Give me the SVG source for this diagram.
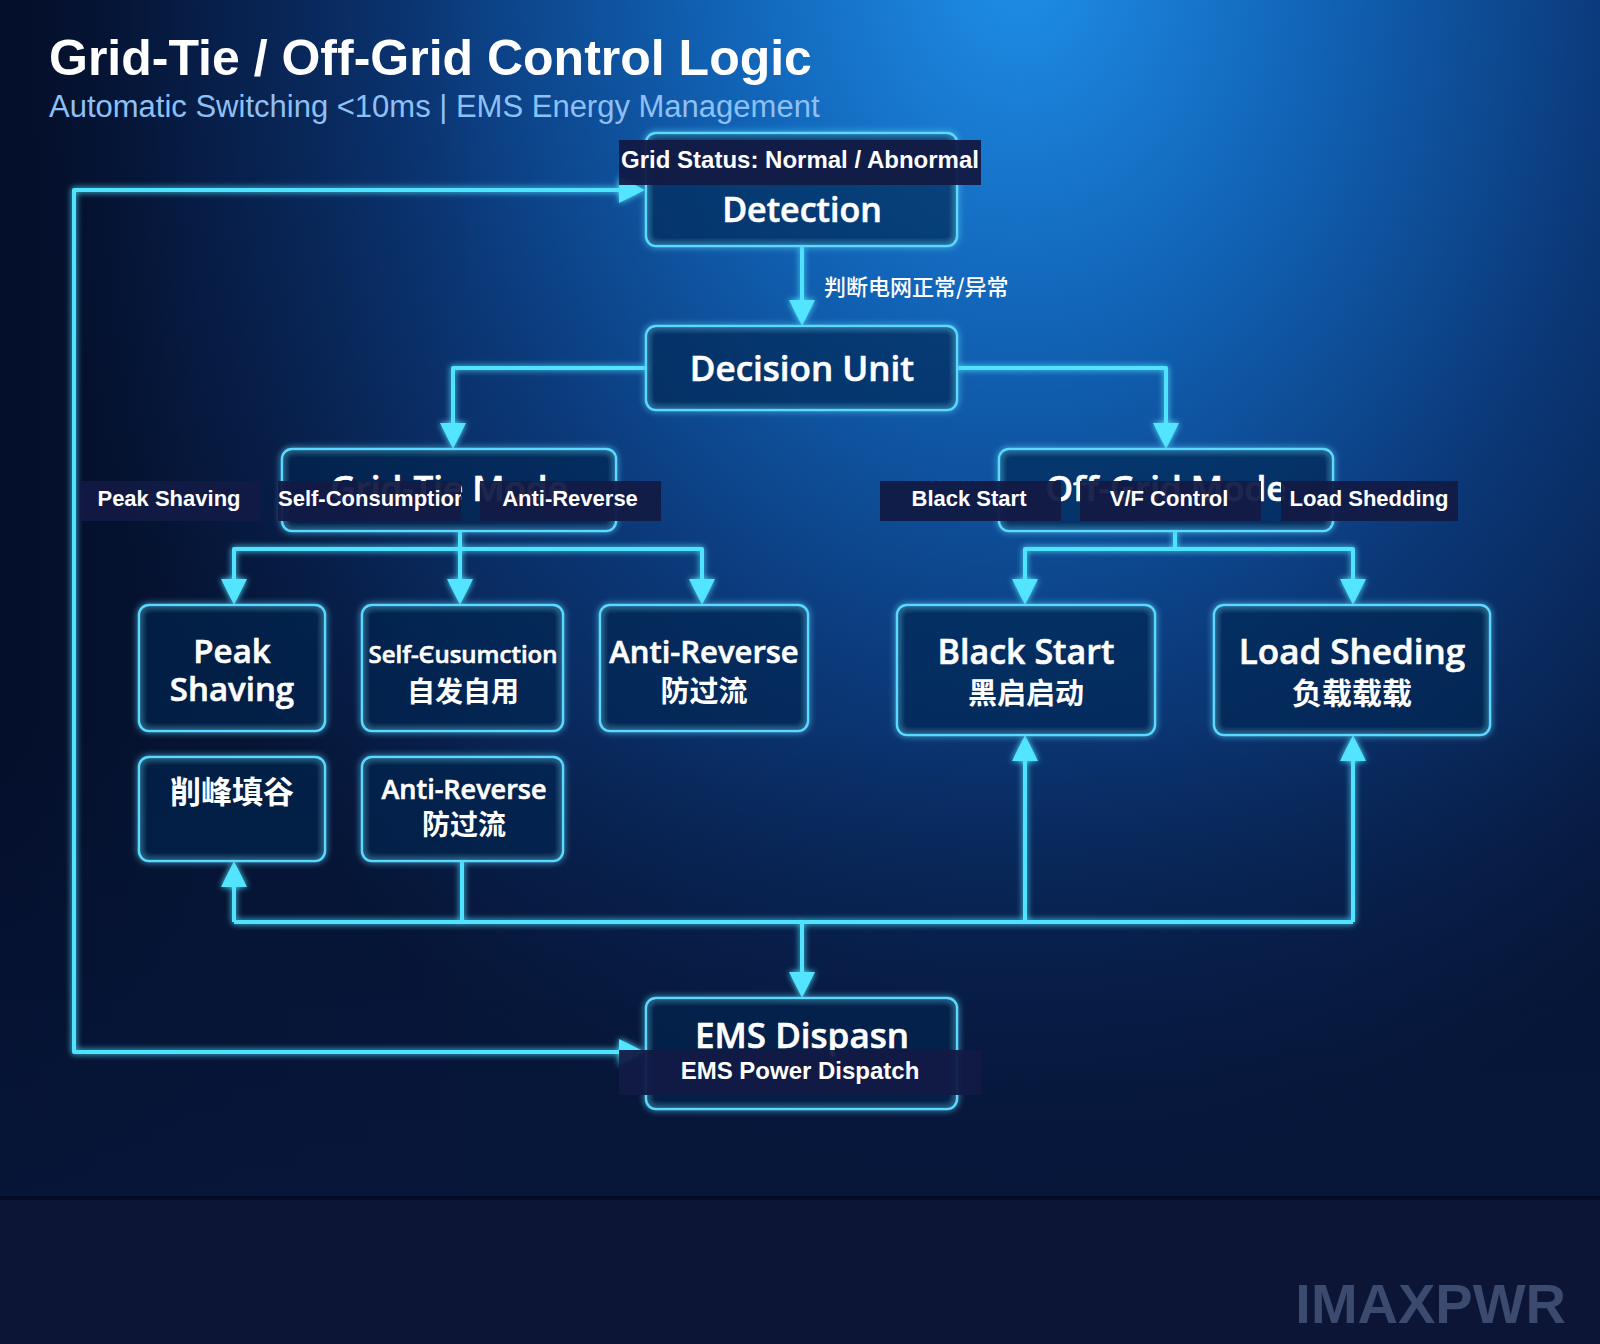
<svg xmlns="http://www.w3.org/2000/svg" width="1600" height="1344" viewBox="0 0 1600 1344">
  <defs>
    <radialGradient id="bg" cx="1020" cy="-40" r="1000" gradientUnits="userSpaceOnUse" gradientTransform="translate(1020,-40) scale(1,1.25) translate(-1020,40)">
      <stop offset="0" stop-color="#1f8fe8"/>
      <stop offset="0.3" stop-color="#1163b6"/>
      <stop offset="0.6" stop-color="#0b3878"/>
      <stop offset="0.85" stop-color="#08214e"/>
      <stop offset="1" stop-color="#061636"/>
    </radialGradient>
    <linearGradient id="leftShade" x1="0" y1="0" x2="1" y2="0">
      <stop offset="0" stop-color="#030c26" stop-opacity="0.75"/>
      <stop offset="0.12" stop-color="#030c26" stop-opacity="0.25"/>
      <stop offset="0.3" stop-color="#030c26" stop-opacity="0"/>
    </linearGradient>
    <linearGradient id="bottomShade" x1="0" y1="0" x2="0" y2="1">
      <stop offset="0.6" stop-color="#07163a" stop-opacity="0"/>
      <stop offset="1" stop-color="#07163a" stop-opacity="0.85"/>
    </linearGradient>
    <filter id="glow" x="-20%" y="-20%" width="140%" height="140%">
      <feGaussianBlur in="SourceGraphic" stdDeviation="3" result="b"/>
      <feMerge><feMergeNode in="b"/><feMergeNode in="SourceGraphic"/></feMerge>
    </filter>
    <marker id="arr" viewBox="0 0 26 26" refX="22" refY="13" markerWidth="26" markerHeight="26" markerUnits="userSpaceOnUse" orient="auto">
      <path d="M0,0 L26,13 L0,26 z" fill="#52e4ff"/>
    </marker>
    <clipPath id="clipSelf"><rect x="278" y="481" width="183" height="40"/></clipPath>
    <style>
      .node rect.box { fill: #04204f; fill-opacity: 0.4; stroke: #5ad8ff; stroke-width: 2.5; }
      .nt { font-family: "Open Sans", "Noto Sans", sans-serif; font-weight: 600; fill: #ffffff; stroke: #ffffff; stroke-width: 0.6; text-anchor: middle; }
      .cn { font-family: "Noto Sans CJK SC", sans-serif; font-weight: 700; fill: #ffffff; text-anchor: middle; }
      .lbl rect { fill: #121a45; fill-opacity: 0.95; }
      .lbl text { font-family: "Liberation Sans", Arial, sans-serif; font-weight: 700; fill: #ffffff; font-size: 22px; text-anchor: middle; }
      .conn path { fill: none; stroke: #4fe3ff; stroke-width: 4; stroke-linejoin: round; }
    </style>
  </defs>

  <rect width="1600" height="1344" fill="url(#bg)"/>
  <rect width="1600" height="1200" fill="url(#leftShade)"/>
  <rect width="1600" height="1200" fill="url(#bottomShade)"/>
  <rect x="0" y="1196" width="1600" height="6" fill="#040a1c" opacity="0.7"/>
  <rect x="0" y="1200" width="1600" height="144" fill="#0c1535"/>

  <text x="49" y="75" font-family="Liberation Sans, Arial, sans-serif" font-weight="700" font-size="50" fill="#ffffff">Grid-Tie / Off-Grid Control Logic</text>
  <text x="49" y="117" font-family="Liberation Sans, Arial, sans-serif" font-size="31" fill="#8ec0f5">Automatic Switching &lt;10ms | EMS Energy Management</text>

  <g class="conn" filter="url(#glow)">
    <path d="M74,620 V190 H641" marker-end="url(#arr)"/>
    <path d="M74,620 V1052 H641" marker-end="url(#arr)"/>
    <path d="M802,246 V322" marker-end="url(#arr)"/>
    <path d="M646,368 H453 V445" marker-end="url(#arr)"/>
    <path d="M957,368 H1166 V445" marker-end="url(#arr)"/>
    <path d="M460,531 V601" marker-end="url(#arr)"/>
    <path d="M234,601 V549 H702 V601"/>
    <path d="M234,560 V601" marker-end="url(#arr)"/>
    <path d="M702,560 V601" marker-end="url(#arr)"/>
    <path d="M1175,531 V549"/>
    <path d="M1025,601 V549 H1353 V601"/>
    <path d="M1025,560 V601" marker-end="url(#arr)"/>
    <path d="M1353,560 V601" marker-end="url(#arr)"/>
    <path d="M234,922 H1353"/>
    <path d="M234,922 V865" marker-end="url(#arr)"/>
    <path d="M462,861 V922"/>
    <path d="M1025,922 V739" marker-end="url(#arr)"/>
    <path d="M1353,922 V739" marker-end="url(#arr)"/>
    <path d="M802,922 V994" marker-end="url(#arr)"/>
  </g>

  <text x="824" y="295" font-family="Noto Sans CJK SC, sans-serif" font-weight="500" font-size="22" fill="#ffffff">判断电网正常/异常</text>

  <g id="detection" class="node">
    <rect class="box" x="646" y="133" width="311" height="113" rx="10" filter="url(#glow)"/>
    <text class="nt" x="802" y="222" font-size="34">Detection</text>
  </g>
  <g id="label-grid-status" class="lbl">
    <rect x="619" y="140" width="362" height="45"/>
    <text x="800" y="168" style="font-size:24px">Grid Status: Normal / Abnormal</text>
  </g>

  <g id="decision" class="node">
    <rect class="box" x="646" y="326" width="311" height="84" rx="10" filter="url(#glow)"/>
    <text class="nt" x="802" y="381" font-size="35">Decision Unit</text>
  </g>

  <g id="grid-tie" class="node">
    <rect class="box" x="282" y="449" width="334" height="82" rx="10" filter="url(#glow)"/>
    <text class="nt" x="449" y="501" font-size="35">Grid-Tie Mode</text>
  </g>
  <g id="off-grid" class="node">
    <rect class="box" x="999" y="449" width="334" height="82" rx="10" filter="url(#glow)"/>
    <text class="nt" x="1166" y="501" font-size="35">Off-Grid Mode</text>
  </g>

  <g id="labels-grid-tie" class="lbl">
    <rect x="80" y="481" width="180" height="40" fill-opacity="0.8"/>
    <text x="169" y="506">Peak Shaving</text>
    <rect x="278" y="481" width="183" height="40"/>
    <text x="278" y="506" style="text-anchor:start" clip-path="url(#clipSelf)">Self-Consumption</text>
    <rect x="480" y="481" width="181" height="40"/>
    <text x="570" y="506">Anti-Reverse</text>
  </g>
  <g id="labels-off-grid" class="lbl">
    <rect x="880" y="481" width="181" height="40"/>
    <text x="969" y="506">Black Start</text>
    <rect x="1080" y="481" width="181" height="40"/>
    <text x="1169" y="506">V/F Control</text>
    <rect x="1281" y="481" width="177" height="40"/>
    <text x="1369" y="506">Load Shedding</text>
  </g>

  <g id="peak-shaving" class="node">
    <rect class="box" x="139" y="605" width="186" height="126" rx="10" filter="url(#glow)"/>
    <text class="nt" x="232" y="663" font-size="33">Peak</text>
    <text class="nt" x="232" y="701" font-size="33">Shaving</text>
  </g>
  <g id="self-consumption" class="node">
    <rect class="box" x="362" y="605" width="201" height="126" rx="10" filter="url(#glow)"/>
    <text class="nt" x="463" y="663" font-size="24">Self-Єusumction</text>
    <text class="cn" x="463" y="702" font-size="28">自发自用</text>
  </g>
  <g id="anti-reverse" class="node">
    <rect class="box" x="600" y="605" width="208" height="126" rx="10" filter="url(#glow)"/>
    <text class="nt" x="704" y="663" font-size="31">Anti-Reverse</text>
    <text class="cn" x="704" y="702" font-size="29">防过流</text>
  </g>
  <g id="peak-valley" class="node">
    <rect class="box" x="139" y="757" width="186" height="104" rx="10" filter="url(#glow)"/>
    <text class="cn" x="232" y="803" font-size="31">削峰填谷</text>
  </g>
  <g id="anti-reverse-2" class="node">
    <rect class="box" x="362" y="757" width="201" height="104" rx="10" filter="url(#glow)"/>
    <text class="nt" x="464" y="799" font-size="27" font-weight="500" stroke-width="0.2">Anti-Reverse</text>
    <text class="cn" x="464" y="835" font-size="28">防过流</text>
  </g>
  <g id="black-start" class="node">
    <rect class="box" x="897" y="605" width="258" height="130" rx="10" filter="url(#glow)"/>
    <text class="nt" x="1026" y="664" font-size="34">Black Start</text>
    <text class="cn" x="1026" y="704" font-size="29">黑启启动</text>
  </g>
  <g id="load-shedding" class="node">
    <rect class="box" x="1214" y="605" width="276" height="130" rx="10" filter="url(#glow)"/>
    <text class="nt" x="1352" y="664" font-size="35">Load Sheding</text>
    <text class="cn" x="1352" y="704" font-size="30">负载载载</text>
  </g>

  <g id="ems" class="node">
    <rect class="box" x="646" y="998" width="311" height="111" rx="10" filter="url(#glow)"/>
    <text class="nt" x="802" y="1048" font-size="35">EMS Dispasn</text>
  </g>
  <g id="label-ems" class="lbl">
    <rect x="619" y="1050" width="362" height="45"/>
    <text x="800" y="1079" style="font-size:24px">EMS Power Dispatch</text>
  </g>

  <text x="1566" y="1323" text-anchor="end" font-family="Liberation Sans, Arial, sans-serif" font-weight="700" font-size="56" fill="#3b4a6e">IMAXPWR</text>
</svg>
